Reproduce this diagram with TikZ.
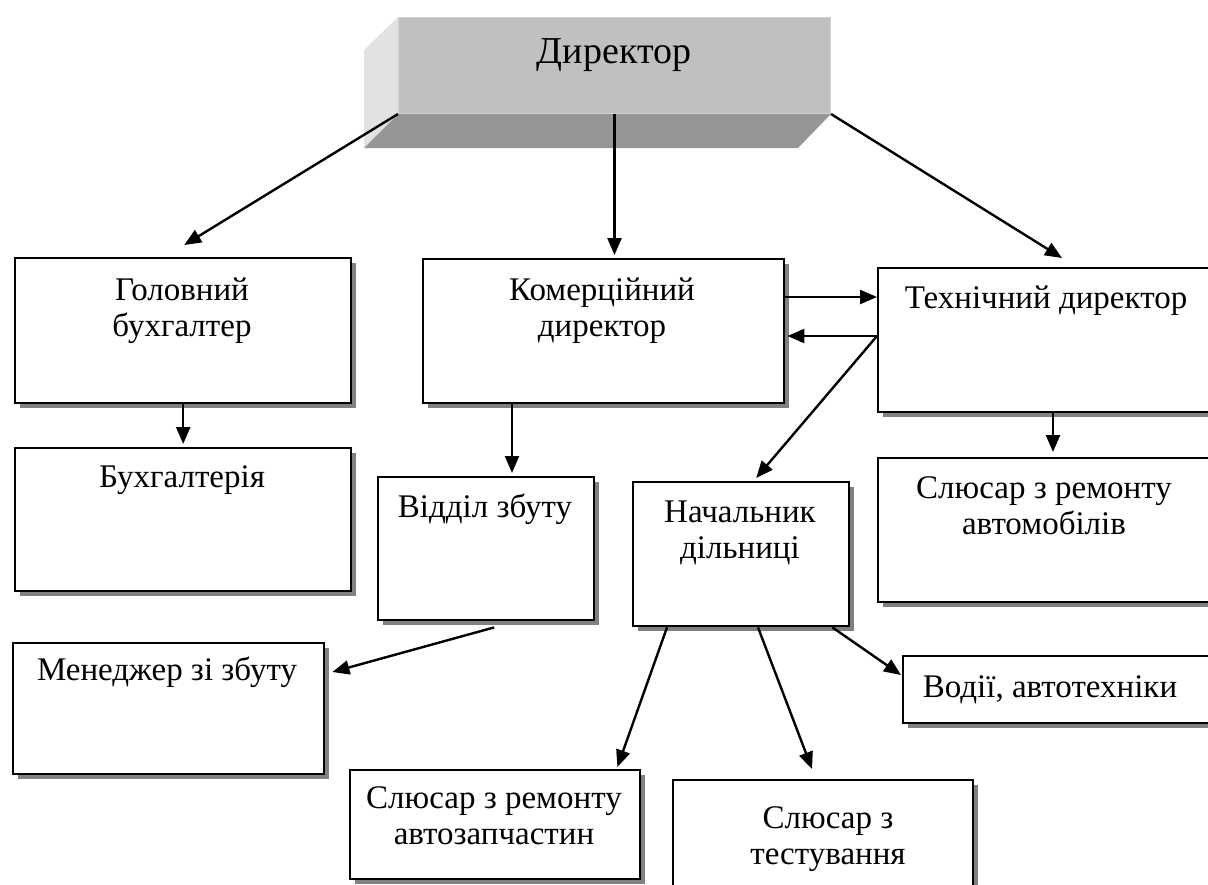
\documentclass[tikz,border=0pt]{standalone}
\usepackage{fontspec}
\setmainfont{Liberation Serif}
\usetikzlibrary{arrows.meta,shadows,calc}
\definecolor{shd}{HTML}{808080}
\definecolor{dirfront}{HTML}{C0C0C0}
\definecolor{dirside}{HTML}{E2E2E2}
\definecolor{dirbot}{HTML}{969696}
\definecolor{dirline}{HTML}{D2D2D2}
\begin{document}
\begin{tikzpicture}[x=1pt,y=-1pt,
  box/.style={draw=black, line width=2.4pt, fill=white, inner sep=0pt, anchor=north west,
    drop shadow={shadow xshift=5pt, shadow yshift=-5pt, fill=shd, opacity=1}},
  txt/.style={font=\fontsize{33}{36}\selectfont, anchor=base, inner sep=0pt},
  arr/.style={line width=2.4pt, -{Triangle[length=17pt,width=14pt]}}]
\useasboundingbox (0,0) rectangle (1208,884);
\clip (0,0) rectangle (1208,884);

% Director 3D box
\node[fill=dirfront, draw=dirline, line width=1pt, minimum width=432pt, minimum height=96pt,
  inner sep=0pt, anchor=north west] (dir) at (398,17) {};
\fill[dirside] (dir.north west) -- ++(-34,33) -- ($(dir.south west)+(-34,34)$) -- (dir.south west) -- cycle;
\fill[dirbot] (dir.south west) -- (dir.south east) -- ++(-33,34) -- ($(dir.south west)+(-34,34)$) -- cycle;
\node[txt, font=\fontsize{38}{46}\selectfont] (dirt) at (614,63) {Директор};

% Boxes
\node[box, minimum width=336pt, minimum height=145pt] (gb) at (14,257) {};
\node[box, minimum width=336pt, minimum height=143pt] (buh) at (14,447) {};
\node[box, minimum width=311pt, minimum height=131pt] (men) at (12,642) {};
\node[box, minimum width=361pt, minimum height=144pt] (kom) at (422,258) {};
\node[box, minimum width=345pt, minimum height=144pt] (tech) at (877,267) {};
\node[box, minimum width=345pt, minimum height=144pt] (avto) at (877,457) {};
\node[box, minimum width=216pt, minimum height=143pt] (vz) at (377,476) {};
\node[box, minimum width=216pt, minimum height=144pt] (nach) at (632,481) {};
\node[box, minimum width=290pt, minimum height=109pt] (zap) at (349,769) {};
\node[box, minimum width=300pt, minimum height=130pt] (test) at (672,779) {};
\node[box, minimum width=320pt, minimum height=67pt] (vod) at (902,655) {};

% Texts
\node[txt] (gbt) at (182,300) {\begin{tabular}[t]{@{}c@{}}Головний\\бухгалтер\end{tabular}};
\node[txt] (buht) at (182,487) {Бухгалтерія};
\node[txt] (ment) at (167,680) {Менеджер зі збуту};
\node[txt] (komt) at (602,300) {\begin{tabular}[t]{@{}c@{}}Комерційний\\директор\end{tabular}};
\node[txt] (techt) at (1046,308) {Технічний директор};
\node[txt] (avtot) at (1044,498) {\begin{tabular}[t]{@{}c@{}}Слюсар з ремонту\\автомобілів\end{tabular}};
\node[txt] (vzt) at (485,517) {Відділ збуту};
\node[txt] (nacht) at (740,522) {\begin{tabular}[t]{@{}c@{}}Начальник\\дільниці\end{tabular}};
\node[txt] (zapt) at (494,808) {\begin{tabular}[t]{@{}c@{}}Слюсар з ремонту\\автозапчастин\end{tabular}};
\node[txt] (testt) at (828,828) {\begin{tabular}[t]{@{}c@{}}Слюсар з\\тестування\end{tabular}};
\node[txt] (vodt) at (1050,697) {Водії, автотехніки};

% Connectors
\draw[arr] (dir.south west) -- ($(gb.north)+(1,-12)$);
\draw[arr] (dir.south) -- ($(dir.south |- kom.north)+(0,-3)$);
\draw[arr] (dir.south east) -- ($(tech.north west)+(185,-9)$);
\draw[arr] (gb.south) -- ($(gb.south |- buh.north)+(0,-3)$);
\draw[arr] (kom.east |- 0,297) -- (tech.west |- 0,297);
\draw[arr] (tech.west |- 0,336) -- ($(kom.east |- 0,336)+(2,0)$);
\draw[arr] (tech.west |- 0,336) -- ($(nach.north)+(15,-3)$);
\draw[arr] (512,0 |- kom.south) -- ($(512,0 |- vz.north)+(0,-3)$);
\draw[arr] ($(vz.south)+(8,6)$) -- ($(men.north east)+(7,30)$);
\draw[arr] ($(nach.south west)+(35,0)$) -- ($(zap.north east)+(-24,-2)$);
\draw[arr] ($(nach.south west)+(126,0)$) -- ($(test.north west)+(140,-10)$);
\draw[arr] ($(nach.south east)+(-18,0)$) -- ($(vod.north west)+(-1,20)$);
\draw[arr] (1053,0 |- tech.south) -- ($(1053,0 |- avto.north)+(0,-5)$);
\end{tikzpicture}
\end{document}
